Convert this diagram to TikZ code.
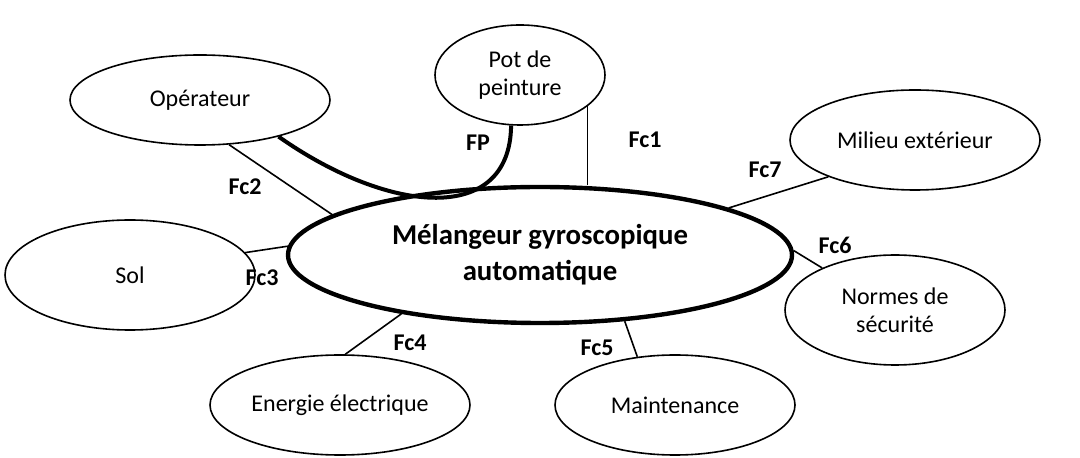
\documentclass[tikz,border=0pt]{standalone}
\usepackage{fontspec}
\setmainfont{Carlito}
\usetikzlibrary{shapes.geometric}
\tikzset{
  bloc/.style={draw, ellipse, thick, inner sep=0pt, align=center, font=\large},
  lien/.style={thick},
  lab/.style={font=\large\bfseries}
}
\begin{document}
\begin{tikzpicture}[x=0.5pt, y=-0.5pt]
            \useasboundingbox (0,0) rectangle (1080,458);
            \node[bloc, line width=2.2pt, minimum width=252, minimum height=68, font=\Large\bfseries] (c) at (540,255) {M\'elangeur gyroscopique\\automatique};
            \node[bloc, minimum width=85, minimum height=50] (pot) at (520,75) {Pot de\\peinture};
            \node[bloc, minimum width=130, minimum height=45] (op) at (200,100) {Op\'erateur};
            \node[bloc, minimum width=125, minimum height=50] (mil) at (915,140) {Milieu ext\'erieur};
            \node[bloc, minimum width=125, minimum height=55] (sol) at (130,275) {Sol};
            \node[bloc, minimum width=110, minimum height=55] (norm) at (895,310) {Normes de\\s\'ecurit\'e};
            \node[bloc, minimum width=130, minimum height=50] (ener) at (340,405) {Energie \'electrique};
            \node[bloc, minimum width=120, minimum height=50] (maint) at (675,405) {Maintenance};
            % fonction principale
            \draw[line width=2pt] (op.-25) .. controls (390,215) and (510,225) .. (pot.-100);
            % fonctions contraintes
            \draw[lien] (pot.-25) -- (c.north -| pot.-25);
            \draw[lien] (op.-57) -- (c.169);
            \draw[lien] (sol.11) -- (c.178);
            \draw[lien] (ener.84) -- (c.203);
            \draw[lien] (maint.128) -- (c.-38);
            \draw[lien] (norm.150) -- (c.1);
            \draw[lien] (mil.203) -- (c.14);
            \node[lab] (lfp) at (478,143) {FP};
            \node[lab] (l1) at (645,140) {Fc1};
            \node[lab] (l2) at (245,187) {Fc2};
            \node[lab] (l3) at (262,278) {Fc3};
            \node[lab] (l4) at (410,343) {Fc4};
            \node[lab] (l5) at (597,348) {Fc5};
            \node[lab] (l6) at (835,245) {Fc6};
            \node[lab] (l7) at (765,170) {Fc7};
\end{tikzpicture}
\end{document}
